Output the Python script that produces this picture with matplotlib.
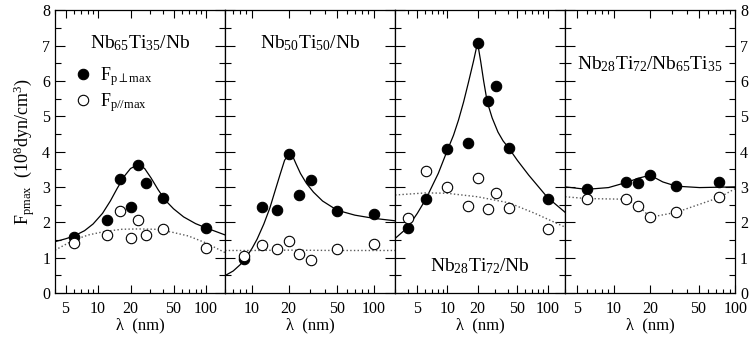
import matplotlib
matplotlib.use("Agg")
import matplotlib.pyplot as plt
from matplotlib.ticker import FixedLocator, NullFormatter, MultipleLocator

plt.rcParams['font.family'] = ['Liberation Serif', 'DejaVu Serif']
plt.rcParams['mathtext.fontset'] = 'custom'
plt.rcParams['mathtext.rm'] = 'Liberation Serif'
plt.rcParams['mathtext.it'] = 'Liberation Serif:italic'
plt.rcParams['mathtext.bf'] = 'Liberation Serif:bold'

# ---- data ----
# panel 1: Nb65Ti35/Nb
p1_x = [6, 12, 16, 20, 23.6, 27.7, 40, 100]
p1_perp = [1.59, 2.07, 3.21, 2.43, 3.63, 3.10, 2.68, 1.85]
p1_par = [1.41, 1.63, 2.33, 1.56, 2.07, 1.64, 1.81, 1.26]
p1_fit_x = [4, 5, 6, 7.5, 9, 11, 13, 15, 17.5, 20, 23.6, 27, 31, 36, 42, 50, 62, 80, 100, 125, 150]
p1_fit_perp = [1.45, 1.53, 1.61, 1.76, 1.95, 2.25, 2.60, 2.95, 3.30, 3.52, 3.63, 3.52, 3.25,
               2.92, 2.62, 2.38, 2.15, 1.96, 1.84, 1.73, 1.64]
p1_fit_par_x = [4.0, 6.0, 8.15, 11.6, 16.6, 23.6, 33.7, 48.1, 68.7, 98.6, 150]
p1_fit_par = [1.21, 1.50, 1.64, 1.74, 1.80, 1.81, 1.80, 1.72, 1.61, 1.42, 1.14]

# panel 2: Nb50Ti50/Nb
p2_x = [8.6, 12, 16, 20, 24.2, 30.4, 50, 100]
p2_perp = [0.95, 2.43, 2.35, 3.93, 2.77, 3.20, 2.33, 2.23]
p2_par = [1.05, 1.36, 1.23, 1.48, 1.10, 0.92, 1.23, 1.38]
p2_fit_x = [6, 7, 8, 9, 10, 11, 12.5, 14, 15.5, 17, 18.5, 20, 21.5, 23, 25, 28, 32, 38, 50, 70, 100, 150]
p2_fit_perp = [0.49, 0.62, 0.80, 1.02, 1.26, 1.52, 1.95, 2.40, 2.90, 3.35, 3.75, 3.93, 3.88,
               3.65, 3.38, 3.10, 2.85, 2.60, 2.34, 2.20, 2.11, 2.04]
p2_fit_par_x = [6, 10, 20, 50, 150]
p2_fit_par = [1.20, 1.20, 1.21, 1.20, 1.20]

# panel 3: Nb28Ti72/Nb
p3_x = [4.0, 6.1, 10, 16.2, 20, 25.7, 30.7, 41, 100]
p3_perp = [1.84, 2.66, 4.06, 4.23, 7.08, 5.42, 5.85, 4.11, 2.67]
p3_par = [2.11, 3.44, 3.00, 2.46, 3.25, 2.36, 2.82, 2.41, 1.81]
p3_fit_x = [3.0, 4.0, 5.0, 6.1, 8.1, 10, 11.5, 12.9, 14.5, 16.2, 18.2, 20,
            21.5, 23, 25, 28, 32, 36, 41, 50, 65, 100, 150]
p3_fit_perp = [1.54, 1.85, 2.25, 2.66, 3.38, 4.04, 4.46, 4.89, 5.40, 5.95, 6.55, 7.08,
               6.55, 6.00, 5.40, 4.95, 4.55, 4.30, 4.10, 3.75, 3.33, 2.70, 2.28]
p3_fit_par_x = [3.0, 6.1, 9.8, 20, 41, 75, 150]
p3_fit_par = [2.77, 2.83, 2.82, 2.72, 2.55, 2.25, 1.86]

# panel 4: Nb28Ti72/Nb65Ti35
p4_x = [6, 12.6, 16, 20, 32.8, 74]
p4_perp = [2.93, 3.13, 3.12, 3.33, 3.02, 3.13]
p4_par = [2.67, 2.65, 2.47, 2.14, 2.28, 2.70]
p4_fit_x = [4, 6, 9.1, 12.6, 16.2, 20, 25.4, 32.8, 51, 100]
p4_fit_perp = [3.00, 2.93, 2.98, 3.12, 3.25, 3.33, 3.14, 3.02, 2.98, 3.00]
p4_fit_par_x = [4, 6, 12.6, 16, 20, 32.8, 74, 100]
p4_fit_par = [2.72, 2.67, 2.65, 2.47, 2.14, 2.28, 2.70, 2.95]

titles = [r"Nb$_{\mathrm{65}}$Ti$_{\mathrm{35}}$/Nb",
          r"Nb$_{\mathrm{50}}$Ti$_{\mathrm{50}}$/Nb",
          r"Nb$_{\mathrm{28}}$Ti$_{\mathrm{72}}$/Nb",
          r"Nb$_{\mathrm{28}}$Ti$_{\mathrm{72}}$/Nb$_{\mathrm{65}}$Ti$_{\mathrm{35}}$"]
xlims = [(4, 150), (6, 150), (3, 150), (4, 100)]
title_pos = [(0.5, 0.885), (0.5, 0.885), (0.5, 0.095), (0.5, 0.81)]

panels = [
    (p1_x, p1_perp, p1_par, p1_fit_x, p1_fit_perp, p1_fit_par_x, p1_fit_par),
    (p2_x, p2_perp, p2_par, p2_fit_x, p2_fit_perp, p2_fit_par_x, p2_fit_par),
    (p3_x, p3_perp, p3_par, p3_fit_x, p3_fit_perp, p3_fit_par_x, p3_fit_par),
    (p4_x, p4_perp, p4_par, p4_fit_x, p4_fit_perp, p4_fit_par_x, p4_fit_par),
]

fig, axes = plt.subplots(1, 4, figsize=(7.54, 3.39), dpi=100, sharey=True)
fig.subplots_adjust(left=0.073, right=0.975, bottom=0.136, top=0.970, wspace=0)

for i, ax in enumerate(axes):
    x, perp, par, fx, fperp, fpx, fpar = panels[i]
    ax.set_xscale('log')
    ax.plot(fx, fperp, '-', color='black', lw=0.9)
    ax.plot(fpx, fpar, ':', color='0.35', lw=1.0)
    h1, = ax.plot(x, perp, 'o', ms=7.5, mfc='black', mec='black', mew=0.8, ls='none',
                  label=r"F$_{\mathrm{p\perp max}}$")
    h2, = ax.plot(x, par, 'o', ms=7.5, mfc='white', mec='black', mew=0.8, ls='none',
                  label=r"F$_{\mathrm{p//max}}$")
    ax.set_xlim(*xlims[i])
    ax.set_ylim(0, 8)
    ax.yaxis.set_major_locator(MultipleLocator(1))
    ax.yaxis.set_minor_locator(MultipleLocator(0.5))
    lo, hi = xlims[i]
    majors = [t for t in [5, 10, 20, 50, 100] if lo <= t <= hi]
    ax.xaxis.set_major_locator(FixedLocator(majors))
    ax.set_xticklabels([str(t) for t in majors])
    minors = [m * d for d in [1, 10, 100] for m in range(2, 10)]
    ax.xaxis.set_minor_locator(FixedLocator([t for t in minors if t not in majors]))
    ax.xaxis.set_minor_formatter(NullFormatter())
    ax.tick_params(which='both', direction='in', top=True, right=True,
                   labelsize=11.5, width=0.8)
    ax.tick_params(axis='y', which='major', length=7)
    ax.tick_params(axis='y', which='minor', length=4)
    ax.tick_params(axis='x', which='major', length=6, pad=6)
    ax.tick_params(axis='x', which='minor', length=3)
    ax.tick_params(labelleft=(i == 0), labelright=(i == 3))
    for s in ax.spines.values():
        s.set_linewidth(0.9)
    ax.set_xlabel("λ  (nm)", fontsize=12, labelpad=0)
    ax.text(title_pos[i][0], title_pos[i][1], titles[i], transform=ax.transAxes,
            ha='center', va='center', fontsize=14)
    if i == 0:
        ax.legend(handles=[h1, h2], loc='upper left', bbox_to_anchor=(0.06, 0.83),
                  frameon=False, fontsize=13, handletextpad=0.3, borderaxespad=0,
                  labelspacing=0.15, handlelength=1.2)

axes[0].set_ylabel(r"F$_{\mathrm{pmax}}$  (10$^{\mathrm{8}}$dyn/cm$^{\mathrm{3}}$)",
                   fontsize=13, labelpad=4)

fig.savefig("out.png", dpi=100)
